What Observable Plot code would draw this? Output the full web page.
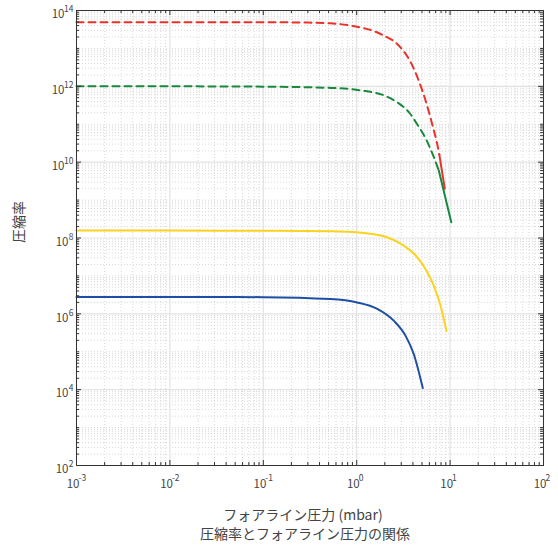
<!DOCTYPE html>
<html>
<head>
<meta charset="utf-8">
<script src="https://cdn.jsdelivr.net/npm/d3@7"></script>
<script src="https://cdn.jsdelivr.net/npm/@observablehq/plot@0.6"></script>
<style>
  html, body { margin: 0; padding: 0; background: #fff; }
  svg { font-family: "Noto Sans CJK JP", "Noto Sans", sans-serif; }
</style>
</head>
<body>
<div id="chart"></div>
<script>
// ---- data ----
const redX   = [0.001, 0.01, 0.1, 0.3, 0.525, 0.86, 1.8, 2.94, 3.77, 4.62, 5.45, 6.43, 7.28, 7.66];
const redY   = [4.9e13, 4.9e13, 4.9e13, 4.8e13, 4.6e13, 4.0e13, 2.4e13, 1.07e13, 4.4e12, 1.4e12, 4.3e11, 1.0e11, 3.0e10, 1.6e10];
const redSolidX = [7.66, 8.77];
const redSolidY = [1.6e10, 2.0e9];

const greenX = [0.001, 0.01, 0.1, 0.525, 1.10, 1.95, 2.71, 3.7, 4.44, 5.45, 6.70, 7.57];
const greenY = [1e12, 1e12, 9.8e11, 9.1e11, 7.8e11, 5.8e11, 3.8e11, 1.95e11, 1.0e11, 4.3e10, 1.35e10, 6.0e9];
const greenSolidX = [7.57, 10.3];
const greenSolidY = [6.0e9, 2.6e8];

const yellowX = [0.001, 0.01, 0.1, 0.525, 1.19, 2.12, 3.19, 4.26, 5.45, 6.70, 7.89, 9.15];
const yellowY = [1.57e8, 1.57e8, 1.55e8, 1.51e8, 1.36e8, 1.05e8, 6.3e7, 3.5e7, 1.53e7, 5.5e6, 1.66e6, 3.5e5];

const blueX = [0.001, 0.01, 0.1, 0.525, 1.01, 1.66, 2.49, 3.33, 4.08, 5.10];
const blueY = [2.8e6, 2.8e6, 2.75e6, 2.45e6, 2.0e6, 1.35e6, 6.6e5, 2.66e5, 8.7e4, 1.1e4];

const xMajor = [1e-3, 1e-2, 1e-1, 1, 10, 100];
const xExp   = ["-3", "-2", "-1", "0", "1", "2"];
const yMajor = [1e2, 1e4, 1e6, 1e8, 1e10, 1e12, 1e14];
const yExp   = ["2", "4", "6", "8", "10", "12", "14"];

const xLabel = "フォアライン圧力 (mbar)";
const yLabel = "圧縮率";
const title  = "圧縮率とフォアライン圧力の関係";

// ---- derived tables ----
const pts = (xs, ys) => xs.map((x, i) => ({x, y: ys[i]}));
const xMinor = d3.range(-3, 2).flatMap(e => d3.range(2, 10).map(k => k * 10 ** e));
const yMinor = d3.range(2, 14).flatMap(e => d3.range(1, 10).map(k => k * 10 ** e))
  .filter(v => !yMajor.some(m => Math.abs(m - v) / m < 1e-9));

const W = 558, H = 547;
const mL = 76, mR = 15, mT = 10, mB = 82;
const fw = W - mL - mR, fh = H - mT - mB;

const gridMajor = "#e3e3e3";
const gridMinor = "#cfcfcf";
const axisCol = "#333";
const textCol = "#444";

const chart = Plot.plot({
  width: W, height: H,
  marginLeft: mL, marginRight: mR, marginTop: mT, marginBottom: mB,
  x: {type: "log", domain: [1e-3, 1e2], axis: null},
  y: {type: "log", domain: [1e2, 1e14], axis: null},
  marks: [
    // grid
    Plot.ruleX(xMinor, {x: d => d, stroke: gridMinor, strokeWidth: 0.8, strokeDasharray: "1,2"}),
    Plot.ruleY(yMinor, {y: d => d, stroke: gridMinor, strokeWidth: 0.8, strokeDasharray: "1,2"}),
    Plot.ruleX(xMajor, {x: d => d, stroke: gridMajor, strokeWidth: 1.2}),
    Plot.ruleY(yMajor, {y: d => d, stroke: gridMajor, strokeWidth: 1.2}),
    // curves
    Plot.line(pts(redX, redY), {x: "x", y: "y", stroke: "#e8332b", strokeWidth: 2, strokeDasharray: "7,5", curve: "monotone-x"}),
    Plot.line(pts(redSolidX, redSolidY), {x: "x", y: "y", stroke: "#e8332b", strokeWidth: 2}),
    Plot.line(pts(greenX, greenY), {x: "x", y: "y", stroke: "#178a3e", strokeWidth: 2, strokeDasharray: "7,5", curve: "monotone-x"}),
    Plot.line(pts(greenSolidX, greenSolidY), {x: "x", y: "y", stroke: "#178a3e", strokeWidth: 2}),
    Plot.line(pts(yellowX, yellowY), {x: "x", y: "y", stroke: "#fdd21e", strokeWidth: 2, curve: "monotone-x"}),
    Plot.line(pts(blueX, blueY), {x: "x", y: "y", stroke: "#1f4fa2", strokeWidth: 2, curve: "monotone-x"}),
    // frame
    Plot.frame({stroke: axisCol, strokeWidth: 1}),
    // inward ticks: bottom/top
    Plot.ruleX(xMajor, {x: d => d, insetTop: fh - 5, stroke: axisCol}),
    Plot.ruleX(xMinor, {x: d => d, insetTop: fh - 3, stroke: axisCol}),
    Plot.ruleX(xMajor, {x: d => d, insetBottom: fh - 5, stroke: axisCol}),
    Plot.ruleX(xMinor, {x: d => d, insetBottom: fh - 3, stroke: axisCol}),
    // inward ticks: left/right
    Plot.ruleY(yMajor, {y: d => d, insetRight: fw - 5, stroke: axisCol}),
    Plot.ruleY(yMinor, {y: d => d, insetRight: fw - 3, stroke: axisCol}),
    Plot.ruleY(yMajor, {y: d => d, insetLeft: fw - 5, stroke: axisCol}),
    Plot.ruleY(yMinor, {y: d => d, insetLeft: fw - 3, stroke: axisCol}),
    // x tick labels
    Plot.text(xMajor, {x: d => d, frameAnchor: "bottom", lineAnchor: "middle", text: () => "10", textAnchor: "end", dx: 3, dy: 19, fontSize: 11.5, fill: textCol}),
    Plot.text(xMajor, {x: d => d, frameAnchor: "bottom", lineAnchor: "middle", text: (d, i) => xExp[i], textAnchor: "start", dx: 2, dy: 13, fontSize: 8.5, fill: textCol}),
    // y tick labels
    Plot.text(yMajor, {filter: (d, i) => yExp[i].length === 1, y: d => d, frameAnchor: "left", lineAnchor: "middle", text: () => "10", textAnchor: "end", dx: -8, dy: 4, fontSize: 11.5, fill: textCol}),
    Plot.text(yMajor, {filter: (d, i) => yExp[i].length === 2, y: d => d, frameAnchor: "left", lineAnchor: "middle", text: () => "10", textAnchor: "end", dx: -12, dy: 4, fontSize: 11.5, fill: textCol}),
    Plot.text(yMajor, {y: d => d, frameAnchor: "left", lineAnchor: "middle", text: (d, i) => yExp[i], textAnchor: "end", dx: -3, dy: -1, fontSize: 8.5, fill: textCol}),
    // axis labels & title
    Plot.text([xLabel], {frameAnchor: "bottom", lineAnchor: "middle", textAnchor: "middle", text: d => d, dx: -7, dy: 50, fontSize: 14, fill: textCol}),
    Plot.text([title], {frameAnchor: "bottom", lineAnchor: "middle", textAnchor: "middle", text: d => d, dx: -5, dy: 69, fontSize: 14, fill: textCol}),
    Plot.text([yLabel], {frameAnchor: "left", lineAnchor: "middle", textAnchor: "middle", text: d => d, rotate: -90, dx: -57, dy: -16, fontSize: 14, fill: textCol})
  ]
});
document.getElementById("chart").append(chart);
</script>
</body>
</html>
